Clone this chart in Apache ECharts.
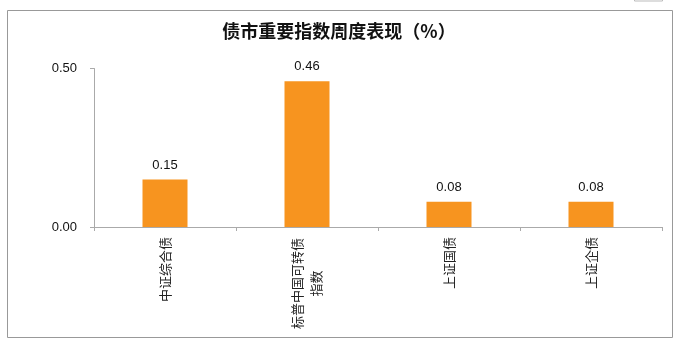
<!DOCTYPE html>
<html>
<head>
<meta charset="utf-8">
<script src="https://cdn.jsdelivr.net/npm/echarts@6/dist/echarts.min.js"></script>
<style>
html,body{margin:0;padding:0;background:#fff;}
#c{width:678px;height:346px;}
</style>
</head>
<body>
<div id="c"></div>
<script>
const titleText = '债市重要指数周度表现（%）';
const categories = ['中证综合债', '标普中国可转债\n指数', '上证国债', '上证企债'];
const values = [0.15, 0.46, 0.08, 0.08];
const yTicks = [0, 0.5];

const chart = echarts.init(document.getElementById('c'), null, {renderer: 'canvas'});
chart.setOption({
  animation: false,
  backgroundColor: '#fff',
  title: {
    text: titleText,
    left: 'center',
    top: 17,
    textStyle: {fontFamily: 'Noto Sans CJK SC', fontWeight: 'bold', fontSize: 18, color: '#111'}
  },
  graphic: [
    {type: 'rect', shape: {x: 7.5, y: 10.5, width: 665, height: 327}, style: {fill: 'none', stroke: '#999', lineWidth: 1}, silent: true},
    {type: 'rect', shape: {x: 634.5, y: -5, width: 28, height: 6}, style: {fill: 'none', stroke: '#bbb', lineWidth: 1}, silent: true}
  ],
  grid: {left: 94, right: 16, top: 68.5, bottom: 119, containLabel: false},
  xAxis: {
    type: 'category',
    data: categories,
    axisLine: {lineStyle: {color: '#aaa'}},
    axisTick: {show: true, alignWithLabel: false, length: 4, inside: false, lineStyle: {color: '#aaa'}},
    axisLabel: {
      rotate: 90, margin: 10, fontFamily: 'Noto Sans CJK SC', fontSize: 13, color: '#222', lineHeight: 19, interval: 0,
      formatter: function (v) {
        const lines = v.split('\n');
        if (lines.length === 1) return v;
        return lines.map(l => '{c|' + l + '}').join('\n');
      },
      rich: {c: {width: 93, align: 'center', fontFamily: 'Noto Sans CJK SC', fontSize: 13, color: '#222', lineHeight: 19}}
    }
  },
  yAxis: {
    type: 'value',
    min: yTicks[0],
    max: yTicks[yTicks.length - 1],
    interval: 0.5,
    splitLine: {show: false},
    axisLine: {show: true, lineStyle: {color: '#aaa'}},
    axisTick: {show: true, length: 4, lineStyle: {color: '#aaa'}},
    axisLabel: {margin: 17, fontFamily: 'Liberation Sans', fontSize: 13, color: '#111', formatter: v => v.toFixed(2)}
  },
  series: [{
    type: 'bar',
    data: values,
    barWidth: 45,
    itemStyle: {color: '#F7941F'},
    label: {show: true, position: 'top', distance: 8, fontFamily: 'Liberation Sans', fontSize: 13, color: '#111', formatter: p => p.value.toFixed(2)}
  }]
});
</script>
</body>
</html>
